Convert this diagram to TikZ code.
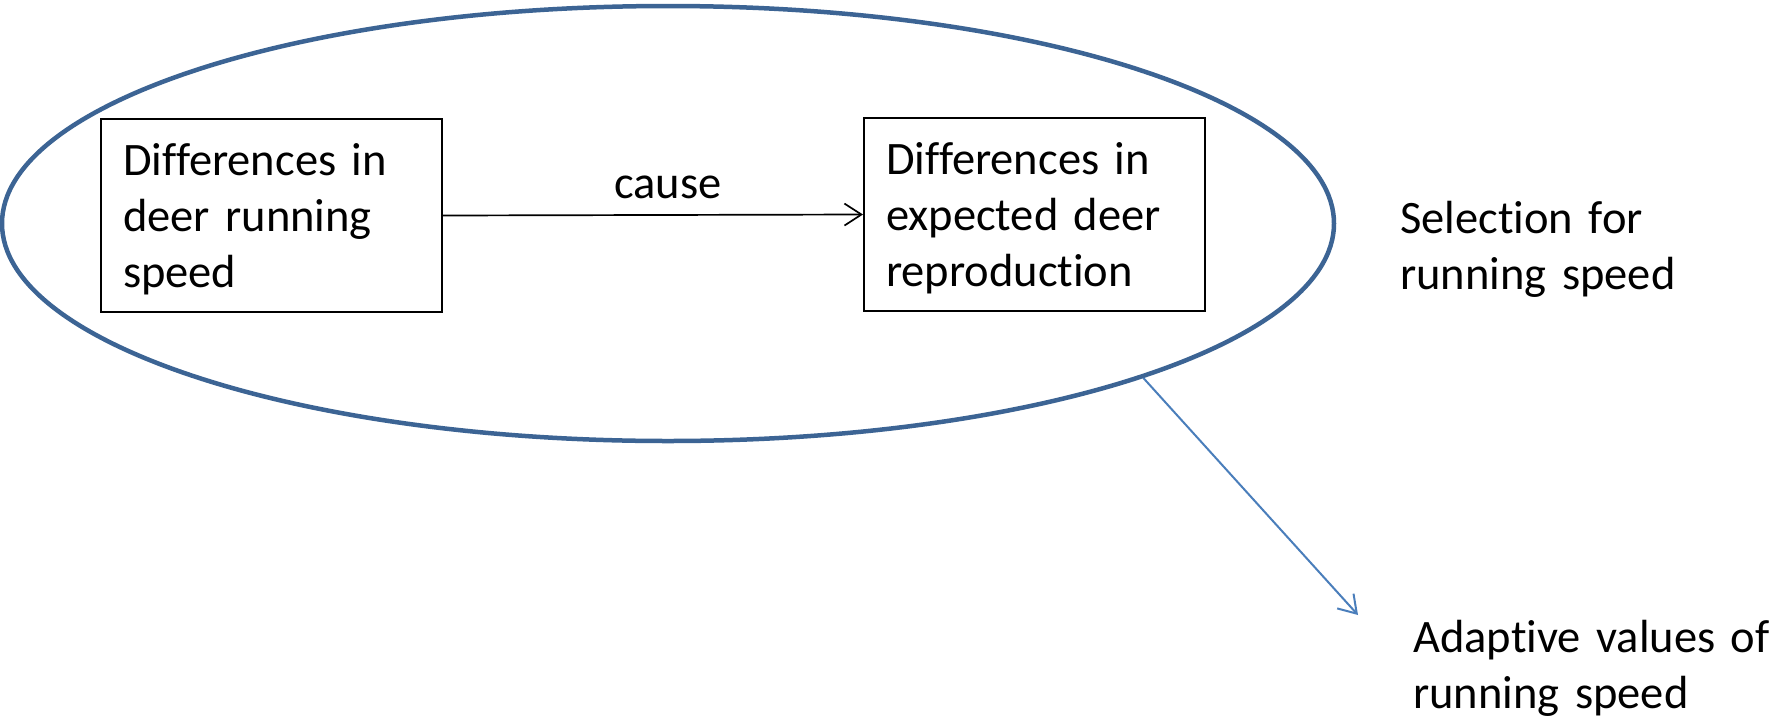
\documentclass[tikz,border=0pt]{standalone}
\usepackage{fontspec}
\setmainfont{Carlito}[RawFeature=-liga]
\usetikzlibrary{shapes.geometric,arrows.meta}
\definecolor{ellblue}{HTML}{3C6494}
\definecolor{arrblue}{HTML}{4A7EBB}
\tikzset{
  x=1pt, y=-1pt,
  txt/.style={font=\fontsize{46.5}{56}\selectfont},
  boxnode/.style={txt, draw=black, line width=2pt, anchor=north west,
    text width=297pt, inner xsep=22pt, inner ysep=0pt, align=left,
    text height=56pt, text depth=137pt},
  plainlbl/.style={txt, anchor=base west, inner sep=0pt, text width=380pt, align=left},
  ellnode/.style={ellipse, draw=ellblue, line width=4.5pt, minimum width=1332pt, minimum height=435pt, inner sep=0pt},
  blackarrow/.style={line width=1.7pt, -{Straight Barb[length=17pt,width=22pt,line width=1.7pt]}},
  bluearrow/.style={draw=arrblue, line width=2pt, -{Straight Barb[length=17pt,width=22pt,line width=2pt]}}
}
\begin{document}
\begin{tikzpicture}
\useasboundingbox (0,0) rectangle (1791,721);
\fill[white] (0,0) rectangle (1791,721);
\node[ellnode] (ell) at (668,223.5) {};
\node[boxnode] (speed) at (100,118) {Differences in\\deer running\\speed};
\node[boxnode] (repro) at (863,117) {Differences in\\expected deer\\reproduction};
\draw[blackarrow] (speed.east) -- (repro.west);
\node[txt, anchor=base, inner sep=0pt] (cause) at (668,198) {cause};
\node[plainlbl] (selection) at (1400,233) {Selection for\\running speed};
\node[plainlbl] (adaptive) at (1413,652) {Adaptive values of\\running speed};
\coordinate (tip) at (1358,615);
\draw[bluearrow] (ell.-18.1) -- (tip);
\end{tikzpicture}
\end{document}
